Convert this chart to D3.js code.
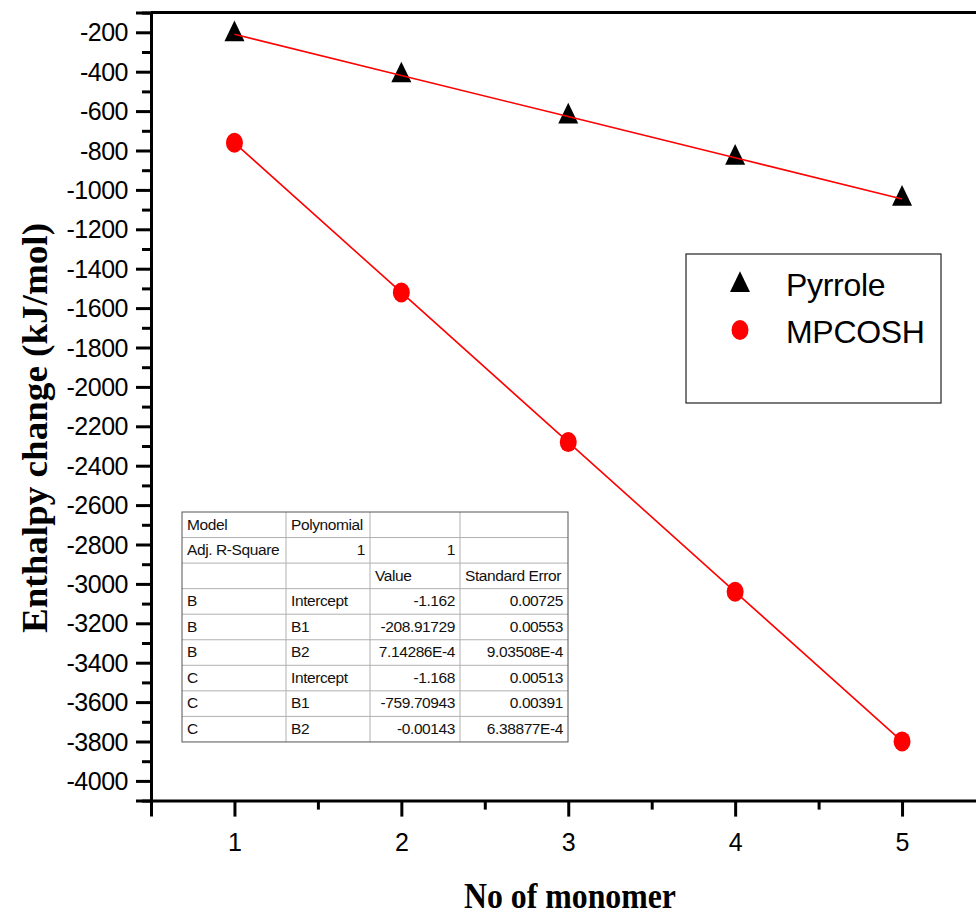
<!DOCTYPE html>
<html>
<head>
<meta charset="utf-8">
<script src="https://cdn.jsdelivr.net/npm/d3@7"></script>
<style>
  html, body { margin: 0; padding: 0; background: #fff; }
  svg { display: block; }
  .axis path, .axis line { stroke: #000; }
  .axis text { font-family: "Liberation Sans", Arial, sans-serif; fill: #000; }
</style>
</head>
<body>
<svg id="chart" width="976" height="915"></svg>
<script>
// Enthalpy change vs. number of monomer units
const monomers = [1, 2, 3, 4, 5];
const pyrrole = [-210.1, -419.0, -627.9, -836.8, -1045.7];
const mpcosh = [-760.9, -1520.6, -2280.3, -3040.0, -3799.7];

const yMajorTicks = d3.range(-4000, -199, 200);
const yMinorTicks = d3.range(-4100, -99, 200);
const xMajorTicks = [1, 2, 3, 4, 5];
const xMinorTicks = [0.5, 1.5, 2.5, 3.5, 4.5, 5.5];

const seriesNames = ["Pyrrole", "MPCOSH"];

// Polynomial fit summary
const fitHeader = [
  ["Model", "Polynomial", "", ""],
  ["Adj. R-Square", "1", "1", ""],
  ["", "", "Value", "Standard Error"]
];
const fitParams = [
  ["B", "Intercept", "-1.162", "0.00725"],
  ["B", "B1", "-208.91729", "0.00553"],
  ["B", "B2", "7.14286E-4", "9.03508E-4"],
  ["C", "Intercept", "-1.168", "0.00513"],
  ["C", "B1", "-759.70943", "0.00391"],
  ["C", "B2", "-0.00143", "6.38877E-4"]
];

const svg = d3.select("#chart");
svg.append("rect").attr("width", 976).attr("height", 915).attr("fill", "#fff");

const x = d3.scaleLinear().domain([0.5, 5.5]).range([151, 985.5]);
const y = d3.scaleLinear().domain([-100, -4100]).range([12.6, 800.6]);

const axisW = 3;
const plainInt = d => String(d);  // hyphen-minus, as in the original labels

// Top frame line
svg.append("line").attr("x1", x(0.5)).attr("x2", 976).attr("y1", y(-100)).attr("y2", y(-100))
  .attr("stroke", "#000").attr("stroke-width", axisW);

// Left axis: major ticks with labels, minor ticks without
const yAxis = d3.axisLeft(y).tickValues(yMajorTicks).tickSize(15).tickPadding(8)
  .tickFormat(plainInt);
const gy = svg.append("g").attr("class", "axis").attr("transform", `translate(${x(0.5)},0)`).call(yAxis);
gy.select(".domain").attr("stroke-width", axisW);
gy.selectAll(".tick line").attr("stroke-width", axisW);
gy.selectAll(".tick text").attr("font-size", 25).attr("letter-spacing", "-0.5px").attr("dy", "0.34em");

const gyMinor = svg.append("g").attr("class", "axis").attr("transform", `translate(${x(0.5)},0)`)
  .call(d3.axisLeft(y).tickValues(yMinorTicks).tickSize(9).tickFormat(""));
gyMinor.select(".domain").remove();
gyMinor.selectAll(".tick line").attr("stroke-width", axisW);

// Bottom axis
const xAxis = d3.axisBottom(x).tickValues(xMajorTicks).tickSize(16).tickPadding(17)
  .tickFormat(plainInt);
const gx = svg.append("g").attr("class", "axis").attr("transform", `translate(0,${y(-4100)})`).call(xAxis);
gx.select(".domain").attr("stroke-width", axisW);
gx.selectAll(".tick line").attr("stroke-width", axisW);
gx.selectAll(".tick text").attr("font-size", 25);

const gxMinor = svg.append("g").attr("class", "axis").attr("transform", `translate(0,${y(-4100)})`)
  .call(d3.axisBottom(x).tickValues(xMinorTicks).tickSize(9).tickFormat(""));
gxMinor.select(".domain").remove();
gxMinor.selectAll(".tick line").attr("stroke-width", axisW);

// Axis titles
svg.append("text")
  .attr("x", 570).attr("y", 908)
  .attr("text-anchor", "middle")
  .attr("font-family", "'Liberation Serif', 'Times New Roman', serif")
  .attr("font-weight", "bold").attr("font-size", 36)
  .attr("textLength", 212).attr("lengthAdjust", "spacingAndGlyphs")
  .text("No of monomer");

svg.append("text")
  .attr("transform", "translate(47,428) rotate(-90)")
  .attr("text-anchor", "middle")
  .attr("font-family", "'Liberation Serif', 'Times New Roman', serif")
  .attr("font-weight", "bold").attr("font-size", 36)
  .attr("textLength", 410).attr("lengthAdjust", "spacingAndGlyphs")
  .text("Enthalpy change (kJ/mol)");

// Markers
const tri = "M0,-13.8L10,6.9L-10,6.9Z";
const pyrPts = monomers.map((m, i) => [m, pyrrole[i]]);
const mpcPts = monomers.map((m, i) => [m, mpcosh[i]]);

svg.append("g").selectAll("path").data(pyrPts).join("path")
  .attr("d", tri)
  .attr("transform", d => `translate(${x(d[0])},${y(d[1])})`)
  .attr("fill", "#000");

svg.append("g").selectAll("ellipse").data(mpcPts).join("ellipse")
  .attr("cx", d => x(d[0])).attr("cy", d => y(d[1]))
  .attr("rx", 8.5).attr("ry", 10)
  .attr("fill", "#ff0000");

// Fit lines through each series
const line = d3.line().x(d => x(d[0])).y(d => y(d[1]));
[pyrPts, mpcPts].forEach(pts => {
  svg.append("path").datum(pts).attr("d", line)
    .attr("fill", "none").attr("stroke", "#ff0000").attr("stroke-width", 1.6);
});

// Legend
const lg = svg.append("g");
lg.append("rect").attr("x", 686).attr("y", 254).attr("width", 255).attr("height", 149)
  .attr("fill", "#fff").attr("stroke", "#222").attr("stroke-width", 1.2);
lg.append("path").attr("d", tri).attr("transform", "translate(740,285)").attr("fill", "#000");
lg.append("ellipse").attr("cx", 740).attr("cy", 330).attr("rx", 8.5).attr("ry", 10).attr("fill", "#ff0000");
lg.selectAll("text.lab").data(seriesNames).join("text")
  .attr("class", "lab")
  .attr("x", 786).attr("y", (d, i) => 296 + i * 47)
  .attr("font-family", "'Liberation Sans', Arial, sans-serif")
  .attr("font-size", 32).attr("letter-spacing", "-0.3px")
  .text(d => d);

// Fit summary table
const colX = [182, 286, 370, 460, 568];
const rowTop = 512, rowH = 25.55;
const rows = fitHeader.concat(fitParams);
const tg = svg.append("g");
const tableBottom = rowTop + rows.length * rowH;
tg.append("rect").attr("x", colX[0]).attr("y", rowTop)
  .attr("width", colX[4] - colX[0]).attr("height", tableBottom - rowTop)
  .attr("fill", "#fff");
for (let r = 1; r < rows.length; r++) {
  tg.append("line").attr("x1", colX[0]).attr("x2", colX[4])
    .attr("y1", rowTop + r * rowH).attr("y2", rowTop + r * rowH)
    .attr("stroke", "#b0b0b0").attr("stroke-width", 1);
}
for (let c = 1; c < 4; c++) {
  tg.append("line").attr("x1", colX[c]).attr("x2", colX[c])
    .attr("y1", rowTop).attr("y2", tableBottom)
    .attr("stroke", "#b0b0b0").attr("stroke-width", 1);
}
tg.append("rect").attr("x", colX[0]).attr("y", rowTop)
  .attr("width", colX[4] - colX[0]).attr("height", tableBottom - rowTop)
  .attr("fill", "none").attr("stroke", "#555").attr("stroke-width", 1);

const isNum = s => /^-?[0-9.]+(E-?[0-9]+)?$/.test(s);
rows.forEach((row, r) => {
  row.forEach((cell, c) => {
    if (!cell) return;
    const num = c > 0 && isNum(cell);
    tg.append("text")
      .attr("x", num ? colX[c + 1] - 5 : colX[c] + 5)
      .attr("y", rowTop + r * rowH + 17.5)
      .attr("text-anchor", num ? "end" : "start")
      .attr("font-family", "'Liberation Sans', Arial, sans-serif")
      .attr("font-size", 15.5).attr("letter-spacing", "-0.4px")
      .attr("fill", "#111")
      .text(cell);
  });
});
</script>
</body>
</html>
